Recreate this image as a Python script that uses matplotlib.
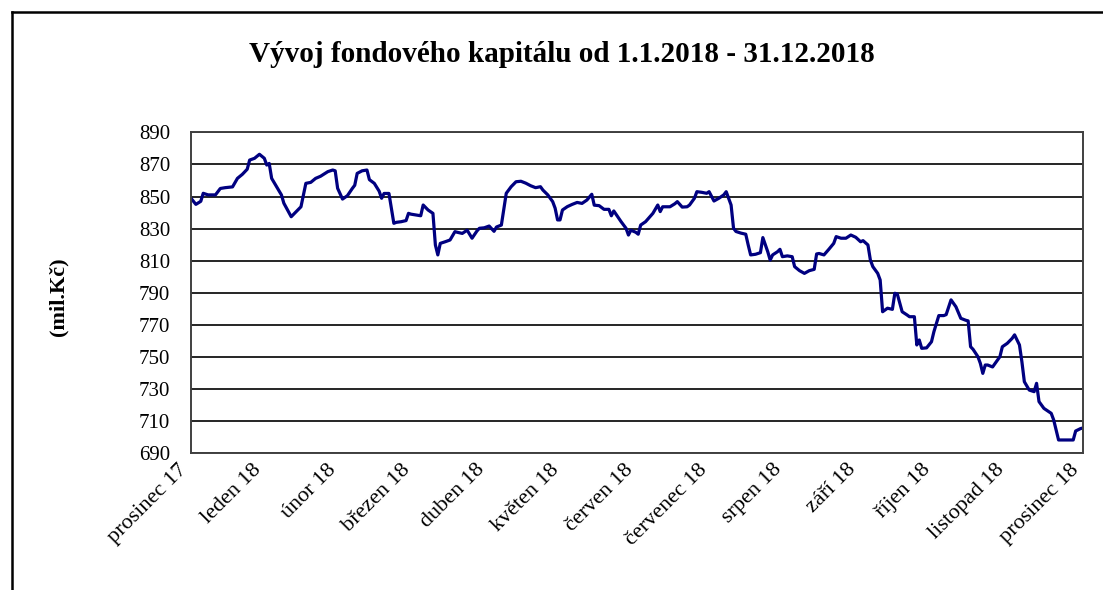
import numpy as np
import matplotlib
matplotlib.use("Agg")
import matplotlib.pyplot as plt
from matplotlib.lines import Line2D

# —————— data ——————
# day offset from the start of the axis (prosinec 17 = 0, prosinec 18 = 365)
dny = [0, 2, 4, 5, 7, 10, 12, 14, 17, 19, 21, 23, 24, 26, 28, 30, 31, 32, 33, 35,
       37, 38, 41, 43, 45, 47, 49, 51, 53, 56, 58,
       59, 60, 62, 64, 66, 67, 68, 70, 72, 73, 75, 77, 78, 79, 81, 83, 84, 86, 88,
       89, 90, 92, 94, 95, 97, 99, 100, 101, 102, 104, 106, 108, 109, 111, 113, 115, 117, 118,
       120, 122, 124, 125, 127, 129, 131, 133, 135, 137, 139, 141, 143, 144, 146, 148, 149,
       150, 151, 152, 154, 156, 158, 160, 162, 164, 165, 167, 169, 171, 172, 173, 176, 178,
       179, 180, 182, 183, 184, 186, 189, 191, 192, 193, 196, 198, 199, 201, 203, 204, 206,
       207, 209, 211, 212, 214, 216, 218, 219, 221, 222, 223, 225, 227, 228, 229, 231, 233,
       234, 236, 237,
       238, 240, 241, 242, 244, 246, 247, 249, 251, 253, 255, 256, 257, 259, 261, 263, 264,
       266, 268, 270, 272, 274, 275, 277, 278, 279, 281, 282, 283, 285, 287, 288, 289, 291,
       293, 294,
       296, 297, 298, 299, 301, 303, 304, 306, 308, 309, 311, 313, 315, 317, 318, 319, 320,
       322, 323, 324, 325, 326, 328, 330, 331, 332, 334, 336, 337, 339, 340, 341, 343, 345,
       346, 347, 349, 352, 353, 354, 355, 358, 361, 362, 364, 365]

kapital = [848.9, 845.1, 847.0, 852.0, 851.0, 851.0, 855.0, 855.5, 856.0, 861.3, 863.8,
           867.0, 872.7, 873.8, 876.3, 873.8, 869.6, 870.6, 861.3, 856.1,
           851.0, 845.8, 837.4, 840.5, 843.6, 858.2, 858.8, 861.3, 862.6, 865.5, 866.5,
           866.0, 855.1, 848.4, 850.5, 855.0, 857.0, 864.4, 866.0, 866.5, 860.5, 858.2,
           853.3, 848.9, 851.9, 851.9, 833.3, 833.9, 834.3, 835.0,
           839.5, 839.0, 838.5, 838.0, 844.7, 841.6, 839.5, 819.8, 813.6, 820.8, 821.8,
           822.9, 828.1, 827.7, 827.0, 829.0, 824.0, 828.5, 830.2,
           830.5, 831.6, 828.3, 831.0, 832.2, 852.0, 856.1, 859.2, 859.5, 858.3, 856.7,
           855.5, 856.1, 854.0, 851.0, 846.8, 842.7,
           835.4, 835.4, 841.6, 843.7, 845.1, 846.3, 845.7, 847.8, 851.4, 844.6, 844.3,
           842.0, 842.0, 838.0, 841.0, 834.3, 830.2,
           826.0, 829.0, 827.7, 826.5, 832.2, 834.3, 839.5, 844.7, 840.6, 843.6, 843.6,
           845.5, 846.8, 843.4, 843.6, 844.7, 848.9,
           853.0, 852.6, 852.0, 853.0, 847.2, 848.9, 851.0, 853.0, 844.7, 830.2, 828.2,
           827.2, 826.5, 819.8, 813.6, 814.0, 815.0,
           824.4, 815.6, 810.4,
           813.6, 815.6, 817.1, 812.5, 813.0, 812.5, 806.3, 803.8, 802.1, 803.8, 804.6,
           814.2, 814.5, 813.6, 817.1, 820.8, 825.0,
           824.0, 824.0, 826.0, 824.6, 821.8, 822.5, 819.8, 810.4, 806.3, 802.1, 798.0,
           778.2, 780.4, 779.7, 789.7, 789.3, 778.2,
           776.2, 775.1,
           775.1, 757.5, 760.6, 755.4, 755.7, 759.5, 765.8, 775.8, 775.8, 776.4, 785.6,
           781.3, 774.1, 772.9, 772.5, 756.4, 754.8,
           750.2, 746.0, 739.8, 745.0, 745.0, 743.8, 748.1, 750.2, 756.4, 758.5, 761.6,
           763.8, 757.5, 747.0, 734.6, 729.4, 728.4,
           733.6, 722.2, 718.0, 714.9, 710.8, 704.5, 698.3, 698.3, 698.3, 703.9, 705.4, 705.8]

mesice = ["prosinec 17", "leden 18", "únor 18", "březen 18", "duben 18", "květen 18",
          "červen 18", "červenec 18", "srpen 18", "září 18", "říjen 18", "listopad 18",
          "prosinec 18"]

y_ticks = list(range(690, 891, 20))

# —————— plot ——————
plt.rcParams['font.family'] = ['Liberation Serif', 'DejaVu Serif']

fig = plt.figure(figsize=(11.03, 5.90), dpi=100)
ax = fig.add_axes([191 / 1103, 1 - 453.3 / 590, (1083 - 191) / 1103, (453.3 - 132.3) / 590])

ax.plot(dny, kapital, color='#000080', linewidth=2.3, solid_joinstyle='round')

ax.set_xlim(0, 365)
ax.set_ylim(690, 890)
ax.set_yticks(y_ticks)
ax.set_xticks(np.linspace(0, 365, len(mesice)))
ax.set_xticklabels(mesice, rotation=45, ha='right', va='top', fontsize=16)
ax.tick_params(axis='both', length=0)
ax.tick_params(axis='x', pad=5)
ax.tick_params(axis='y', pad=15, labelsize=15)

ax.grid(axis='y', color='black', linewidth=1.2)
ax.set_axisbelow(True)
for s in ax.spines.values():
    s.set_color('#404040')
    s.set_linewidth(1.4)

fig.text(562 / 1103, 1 - 55 / 590, "Vývoj fondového kapitálu od 1.1.2018 - 31.12.2018",
         ha='center', va='center', fontsize=21, fontweight='bold')
fig.text(58 / 1103, 1 - 297 / 590, "(mil.Kč)", rotation=90, ha='center', va='center',
         fontsize=16, fontweight='bold')

# outer chart frame (right and bottom edges fall outside the picture)
fig.add_artist(Line2D([12 / 1103, 12 / 1103], [0, 1 - 12 / 590], color='black', linewidth=1.8))
fig.add_artist(Line2D([12 / 1103, 1], [1 - 12 / 590, 1 - 12 / 590], color='black', linewidth=1.8))

fig.savefig("out.png", dpi=100)
